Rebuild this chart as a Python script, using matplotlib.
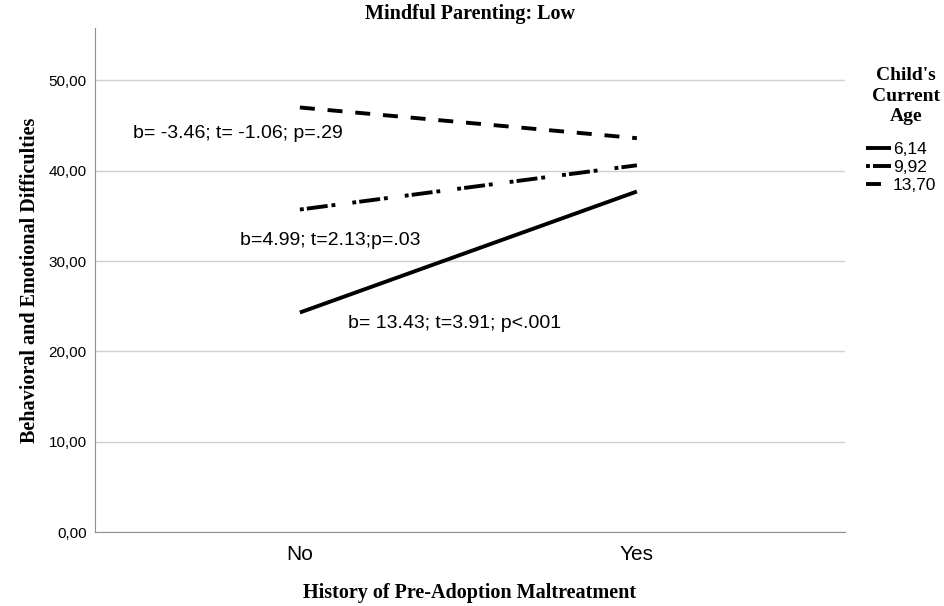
import matplotlib
matplotlib.use("Agg")
import matplotlib.pyplot as plt
import numpy as np

# 데이터
groups = ["No", "Yes"]
age_labels = ["6,14", "9,92", "13,70"]
low_age = [24.3, 37.7]
mid_age = [35.7, 40.6]
high_age = [47.0, 43.6]
notes = ["b= 13.43; t=3.91; p<.001", "b=4.99; t=2.13;p=.03", "b= -3.46; t= -1.06; p=.29"]
note_pos = [(0.142, 23.1), (-0.178, 32.3), (-0.496, 44.1)]

sans = "Liberation Sans"
serif = "Liberation Serif"

fig = plt.figure(figsize=(9.45, 6.06), dpi=100)
ax = fig.add_axes([0.1005, 0.1221, 0.7935, 0.8317])

x = np.arange(len(groups))
lw = 2.8
ax.plot(x, low_age, color="black", lw=lw, ls="-", label=age_labels[0], solid_capstyle="butt")
ax.plot(x, mid_age, color="black", lw=lw, ls=(0, (1, 0.8, 5.4, 1, 1, 4.4)), label=age_labels[1])
ax.plot(x, high_age, color="black", lw=lw, ls=(0, (3.85, 3.3)), label=age_labels[2])

# 기울기 검정 결과
for txt, (tx, ty) in zip(notes, note_pos):
    ax.text(tx, ty, txt, fontsize=14, family=sans, va="center", ha="left")

ax.set_xlim(-0.608, 1.617)
ax.set_ylim(0, 55.8)
ax.set_xticks(x)
ax.set_xticklabels(groups, fontsize=15, family=sans)
ax.set_yticks(np.arange(0, 51, 10))
ax.set_yticklabels([f"{v},00" for v in range(0, 51, 10)], fontsize=11, family=sans)
ax.tick_params(length=0)
ax.tick_params(axis="x", pad=9)
ax.tick_params(axis="y", pad=6)

ax.grid(axis="y", color="#d0d0d0", lw=1)
ax.set_axisbelow(True)
for s in ["top", "right"]:
    ax.spines[s].set_visible(False)
for s in ["left", "bottom"]:
    ax.spines[s].set_color("#909090")

ax.set_title("Mindful Parenting: Low", fontsize=14.5, family=serif, fontweight="bold", pad=6.5)
ax.set_xlabel("History of Pre-Adoption Maltreatment", fontsize=14.5, family=serif, fontweight="bold", labelpad=14)
ax.set_ylabel("Behavioral and Emotional Difficulties", fontsize=14.5, family=serif, fontweight="bold", labelpad=6)

# 범례
fig.text(906 / 945, 1 - 67 / 606, "Child's\nCurrent\nAge", ha="center", va="top", family=serif,
         fontweight="bold", fontsize=14, linespacing=1.27)
leg = ax.legend(loc="upper left", bbox_transform=fig.transFigure,
                bbox_to_anchor=(866 / 945, 1 - 142 / 606), frameon=False,
                handlelength=1.45, handletextpad=0.1, labelspacing=0.15, borderpad=0,
                borderaxespad=0, prop={"family": sans, "size": 12.5})

fig.savefig("out.png", dpi=100)
